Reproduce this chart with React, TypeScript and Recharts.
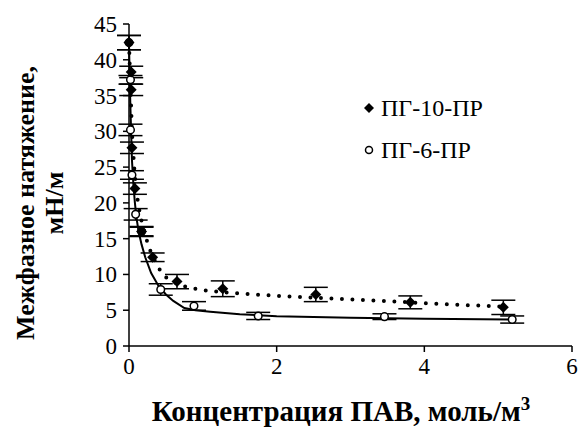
import React from 'react';
import { ScatterChart, Scatter, XAxis, YAxis, ErrorBar } from 'recharts';

// ПГ-10-ПР (filled diamonds)
const pg10X = [0, 0.03, 0.03, 0.04, 0.08, 0.17, 0.32, 0.65, 1.27, 2.53, 3.81, 5.07];
const pg10Y = [42.4, 38.3, 35.8, 27.7, 22, 16, 12.4, 9.0, 8.0, 7.2, 6.1, 5.4];
const pg10Err = [1, 0.8, 0.8, 0.8, 0.8, 0.7, 0.6, 1.0, 1.1, 1.0, 0.9, 1.0];

// ПГ-6-ПР (open circles)
const pg6X = [0, 0.02, 0.02, 0.04, 0.09, 0.17, 0.43, 0.88, 1.75, 3.46, 5.19];
const pg6Y = [42.4, 37.2, 30.2, 23.9, 18.4, 16, 7.9, 5.6, 4.2, 4.1, 3.7];
const pg6Err = [1, 0.6, 0.8, 0.6, 0.8, 0.6, 0.8, 0.6, 0.5, 0.4, 0.5];

// fitted curves
const dotX = [0, 0.02, 0.04, 0.07, 0.1, 0.14, 0.18, 0.24, 0.3, 0.4, 0.5, 0.65, 0.8, 1.0, 1.3, 1.7, 2.2, 2.8, 3.4, 4.0, 4.6, 5.07];
const dotY = [42.4, 36, 30, 25, 21.5, 19, 17, 14.8, 13, 10.9, 9.6, 8.7, 8.2, 7.8, 7.5, 7.2, 6.9, 6.6, 6.3, 6.0, 5.7, 5.5];
const solidX = [0, 0.01, 0.02, 0.04, 0.06, 0.08, 0.1, 0.13, 0.17, 0.22, 0.3, 0.4, 0.5, 0.6, 0.75, 0.9, 1.1, 1.5, 2, 3, 4, 5.19];
const solidY = [42.4, 37, 33, 26, 22.5, 20, 18, 16, 14.2, 12.4, 10.2, 8.4, 7.2, 6.3, 5.3, 5.0, 4.8, 4.45, 4.15, 3.95, 3.8, 3.7];

const xTicks = [0, 2, 4, 6];
const yTicks = [0, 5, 10, 15, 20, 25, 30, 35, 40, 45];

const pg10 = pg10X.map((x, i) => ({ x, y: pg10Y[i], err: pg10Err[i] }));
const pg6 = pg6X.map((x, i) => ({ x, y: pg6Y[i], err: pg6Err[i] }));
const dotted = dotX.map((x, i) => ({ x, y: dotY[i] }));
const solid = solidX.map((x, i) => ({ x, y: solidY[i] }));

const FONT = "'Liberation Serif', 'Times New Roman', serif";

const Diamond = (props: any) => {
  const { cx, cy } = props;
  const s = 5.5;
  return <polygon points={`${cx},${cy - s} ${cx + s},${cy} ${cx},${cy + s} ${cx - s},${cy}`} fill="#000" />;
};

const Circle = (props: any) => {
  const { cx, cy } = props;
  return <circle cx={cx} cy={cy} r={3.8} fill="#fff" stroke="#000" strokeWidth={1.5} />;
};

const Nothing = () => <g />;

const XTick = (props: any) => {
  const { x, y, payload } = props;
  return (
    <text x={x} y={y + 20} textAnchor="middle" style={{ fontFamily: FONT }} fontSize={23} fill="#000">
      {payload.value}
    </text>
  );
};

const YTick = (props: any) => {
  const { x, y, payload } = props;
  return (
    <text x={x - 4} y={y + 8} textAnchor="end" style={{ fontFamily: FONT }} fontSize={23} fill="#000">
      {payload.value}
    </text>
  );
};

const YTitle = () => {
  const cy = 203;
  return (
    <g style={{ fontFamily: FONT }} fontWeight="bold" fontSize={26} fill="#000">
      <text x={34} y={cy} transform={`rotate(-90, 34, ${cy})`} textAnchor="middle">
        Межфазное натяжение,
      </text>
      <text x={63} y={cy} transform={`rotate(-90, 63, ${cy})`} textAnchor="middle">
        мН/м
      </text>
    </g>
  );
};

const XTitle = () => (
  <text x={341} y={421} textAnchor="middle" style={{ fontFamily: FONT }} fontWeight="bold" fontSize={29} fill="#000">
    Концентрация ПАВ, моль/м<tspan fontSize={19} dy={-11}>3</tspan>
  </text>
);

export default function App() {
  return (
    <div style={{ position: 'absolute', left: 0, top: 0, width: 581, height: 432, background: '#fff' }}>
      <ScatterChart width={581} height={432} margin={{ top: 24, right: 9, left: 0, bottom: 0 }}>
        <XAxis
          type="number"
          dataKey="x"
          domain={[0, 6]}
          ticks={xTicks}
          height={86}
          tickSize={6}
          axisLine={{ stroke: '#000', strokeWidth: 1.5 }}
          tickLine={{ stroke: '#000', strokeWidth: 1.5 }}
          tick={XTick}
          label={{ content: XTitle }}
        />
        <YAxis
          type="number"
          dataKey="y"
          domain={[0, 45]}
          ticks={yTicks}
          interval={0}
          width={129}
          tickSize={6}
          axisLine={{ stroke: '#000', strokeWidth: 1.5 }}
          tickLine={{ stroke: '#000', strokeWidth: 1.5 }}
          tick={YTick}
          label={{ content: YTitle }}
        />
        <Scatter
          data={dotted}
          shape={Nothing}
          line={{ stroke: '#000', strokeWidth: 4, strokeDasharray: '0 10.5', strokeLinecap: 'round' }}
          legendType="none"
          isAnimationActive={false}
        />
        <Scatter
          data={solid}
          shape={Nothing}
          line={{ stroke: '#000', strokeWidth: 2 }}
          legendType="none"
          isAnimationActive={false}
        />
        <Scatter name="ПГ-6-ПР" data={pg6} shape={Circle} isAnimationActive={false}>
          <ErrorBar dataKey="err" direction="y" width={12} stroke="#000" strokeWidth={1.5} />
        </Scatter>
        <Scatter name="ПГ-10-ПР" data={pg10} shape={Diamond} isAnimationActive={false}>
          <ErrorBar dataKey="err" direction="y" width={12} stroke="#000" strokeWidth={1.5} />
        </Scatter>
      </ScatterChart>
      <div style={{ position: 'absolute', left: 362, top: 87, fontFamily: FONT, fontSize: 24, color: '#000' }}>
        <div style={{ height: 42, display: 'flex', alignItems: 'center' }}>
          <svg width={16} height={14} style={{ marginRight: 3 }}>
            <polygon points="7,2 12,7 7,12 2,7" fill="#000" />
          </svg>
          ПГ-10-ПР
        </div>
        <div style={{ height: 42, display: 'flex', alignItems: 'center' }}>
          <svg width={16} height={14} style={{ marginRight: 3 }}>
            <circle cx={7} cy={7} r={3.5} fill="#fff" stroke="#000" strokeWidth={1.5} />
          </svg>
          ПГ-6-ПР
        </div>
      </div>
    </div>
  );
}
